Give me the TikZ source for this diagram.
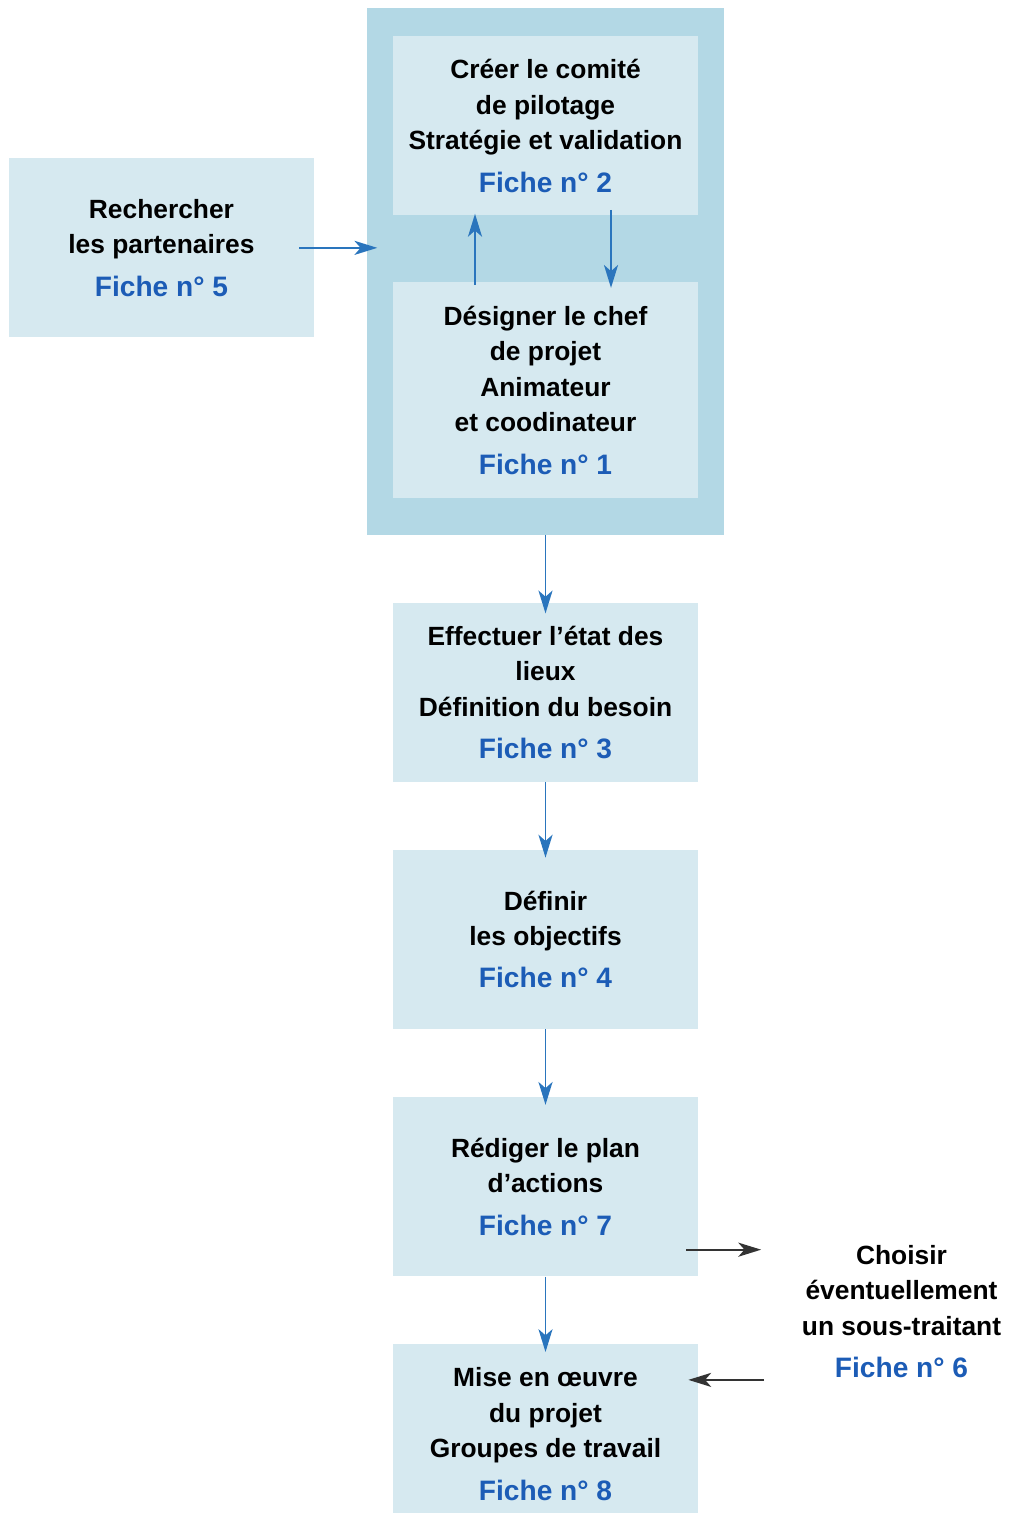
\documentclass[tikz,border=0pt]{standalone}
\usepackage{fontspec}
\setmainfont{Liberation Sans}
\usetikzlibrary{shapes,arrows.meta,positioning,fit,backgrounds,calc}
\definecolor{fondclair}{RGB}{214,233,240}
\definecolor{fondfonce}{RGB}{179,216,229}
\definecolor{bleufiche}{RGB}{28,92,182}
\definecolor{bleufleche}{RGB}{42,117,189}
\newcommand{\fiche}[1]{\\[0.14cm]{\fontsize{16}{20.2}\selectfont\bfseries\color{bleufiche}Fiche n° #1}}

\begin{document}
\begin{tikzpicture}[
        node distance=1.35cm,
        etape/.style={
            rectangle,
            fill=fondclair,
            minimum width=6.1cm,
            minimum height=3.58cm,
            inner sep=0pt,
            align=center,
            font=\bfseries\fontsize{15}{20.2}\selectfont
        },
        fleche/.style={-{Stealth[length=13pt,width=8pt,inset=3.5pt]}, draw=bleufleche, line width=1.1pt, shorten >=-0.16cm},
        flechenoire/.style={fleche, draw=black!80}
    ]
    \useasboundingbox (0,0) rectangle (20.2,-30.26);

    \node[etape] (comite) at (10.91,-2.52) {Créer le comité\\de pilotage\\Stratégie et validation\fiche{2}};
    \node[etape, minimum height=4.32cm, below=1.32cm of comite] (chef) {Désigner le chef\\de projet\\Animateur\\et coodinateur\fiche{1}};
    \begin{scope}[on background layer]
        \node[fit=(comite)(chef), fill=fondfonce, inner xsep=0.52cm, inner ysep=0.64cm, yshift=-0.08cm] (pilotage) {};
    \end{scope}
    \node[etape, left=1.04cm of pilotage, yshift=0.47cm] (partenaires) {Rechercher\\les partenaires\fiche{5}};
    \node[etape, below=of pilotage] (etat) {Effectuer l’état des\\lieux\\Définition du besoin\fiche{3}};
    \node[etape, below=of etat] (objectifs) {Définir\\les objectifs\fiche{4}};
    \node[etape, below=of objectifs] (redaction) {Rédiger le plan\\d’actions\fiche{7}};
    \node[etape, below=of redaction] (mise) {Mise en œuvre\\du projet\\Groupes de travail\fiche{8}};
    \node[etape, fill=none, minimum width=4.6cm] (soustraitant) at ($(redaction)+(7.12,-2.5)$) {Choisir\\éventuellement\\un sous-traitant\fiche{6}};

    \coordinate (sortie) at ([yshift=-1.26cm]redaction.east);
    \coordinate (entree) at ([yshift=1.08cm]mise.east);

    \draw[fleche, shorten <=-0.3cm, shorten >=-0.22cm] (partenaires.east) -- (partenaires.east -| pilotage.west);
    \draw[fleche, shorten <=-0.06cm, shorten >=-0.04cm] ([xshift=-1.41cm]chef.north) -- ([xshift=-1.41cm]comite.south);
    \draw[fleche, shorten <=-0.12cm, shorten >=-0.12cm] ([xshift=1.31cm]comite.south) -- ([xshift=1.31cm]chef.north);
    \draw[fleche, shorten >=-0.22cm] (pilotage.south) -- (etat.north);
    \draw[fleche] (etat) -- (objectifs);
    \draw[fleche] (objectifs) -- (redaction);
    \draw[fleche] (redaction) -- (mise);
    \draw[flechenoire, shorten <=-0.24cm, shorten >=0.5cm] (sortie) -- (sortie -| soustraitant.west);
    \draw[flechenoire, shorten <=0.44cm, shorten >=-0.2cm] (entree -| soustraitant.west) -- (entree);

\end{tikzpicture}
\end{document}
